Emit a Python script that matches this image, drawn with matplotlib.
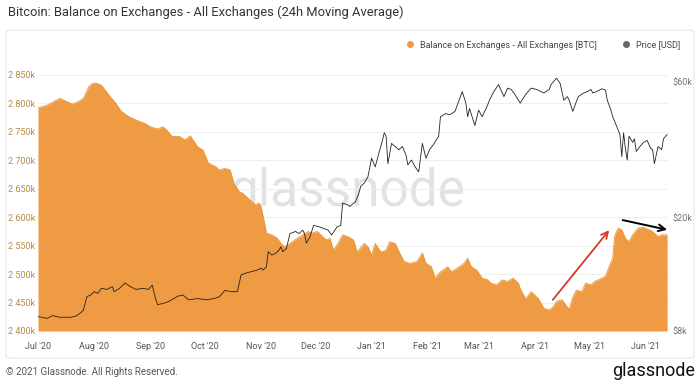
import numpy as np
import pandas as pd
import matplotlib
matplotlib.use("Agg")
import matplotlib.pyplot as plt
from matplotlib.lines import Line2D
from matplotlib.patches import FancyBboxPatch

plt.rcParams["font.family"] = ["Roboto", "DejaVu Sans"]

# day offsets from 2020-07-01 and balance on exchanges (thousand BTC)
bal_day = [0, 5, 12, 16, 19, 22, 25, 28, 30, 32, 35, 39, 43, 46, 50, 54, 59, 62, 66, 69,
           71, 74, 78, 81, 84, 88, 91, 94, 98, 100, 103, 106, 108, 111, 113, 117, 120, 122,
           123, 125, 126, 129, 132, 134, 136, 139, 143, 146, 149, 151, 154, 157, 159, 161,
           163, 166, 168, 171, 174, 176, 180, 182, 184, 186, 189, 192, 194, 197, 200, 202,
           205, 209, 212, 214, 217, 219, 222, 226, 228, 231, 235, 237, 239, 242, 245, 248,
           250, 253, 256, 259, 262, 265, 266, 269, 272, 276, 279, 282, 284, 286, 289, 291,
           293, 295, 297, 300, 302, 305, 307, 311, 313, 315, 317, 318, 320, 322, 324, 326,
           328, 331, 334, 337, 339, 342, 344, 347]
bal_val = [2792, 2797, 2809, 2803, 2799, 2803, 2809, 2829, 2835, 2836, 2832, 2815, 2800, 2786,
           2777, 2771, 2765, 2759, 2755, 2759, 2753, 2742, 2742, 2736, 2743, 2724, 2718, 2695,
           2689, 2683, 2686, 2683, 2660, 2645, 2642, 2630, 2622, 2625, 2619, 2589, 2572, 2569,
           2563, 2554, 2548, 2554, 2563, 2569, 2575, 2572, 2575, 2566, 2560, 2563, 2542, 2557,
           2569, 2566, 2560, 2539, 2554, 2548, 2534, 2554, 2539, 2542, 2557, 2554, 2534, 2522,
           2519, 2522, 2537, 2519, 2513, 2493, 2504, 2513, 2504, 2510, 2519, 2528, 2513, 2507,
           2493, 2490, 2484, 2481, 2490, 2487, 2493, 2484, 2474, 2457, 2469, 2457, 2440, 2437,
           2442, 2452, 2455, 2446, 2438, 2460, 2472, 2469, 2484, 2481, 2487, 2493, 2496, 2513,
           2528, 2566, 2581, 2578, 2563, 2557, 2569, 2581, 2582, 2578, 2575, 2566, 2569, 2569]

# day offsets and BTC price (thousand USD)
px_day = [0, 5, 8, 12, 18, 21, 23, 25, 27, 29, 31, 33, 35, 38, 41, 42, 45, 48, 51, 54, 58,
          61, 63, 65, 66, 69, 72, 75, 77, 80, 83, 88, 93, 97, 100, 103, 107, 110, 111, 112,
          115, 118, 121, 123, 124, 126, 127, 129, 131, 133, 134, 135, 137, 139, 142, 144,
          146, 147, 148, 150, 152, 155, 157, 160, 162, 165, 167, 168, 171, 172, 174, 175,
          177, 178, 180, 182, 184, 186, 188, 190, 191, 192, 193, 195, 197, 199, 201, 203,
          204, 206, 208, 210, 212, 214, 216, 218, 221, 222, 225, 227, 230, 232, 234, 236,
          237, 238, 240, 241, 243, 245, 248, 249, 251, 254, 257, 259, 261, 263, 266, 269,
          272, 275, 279, 282, 283, 286, 288, 290, 292, 293, 295, 296, 298, 301, 303, 305,
          306, 308, 311, 313, 314, 316, 317, 319, 321, 322, 323, 324, 325, 326, 328, 329,
          330, 332, 334, 336, 338, 339, 340, 342, 344, 345, 347]
px_val = [9.0, 8.86, 9.06, 8.94, 8.94, 9.03, 9.22, 9.45, 10.57, 10.7, 11.0, 10.85, 11.3, 11.2,
          11.45, 11.0, 11.3, 11.8, 11.45, 11.2, 11.3, 11.2, 11.6, 10.3, 9.9, 10.0, 10.15, 10.4,
          10.6, 10.7, 10.3, 10.4, 10.3, 10.4, 10.55, 11.1, 11.0, 11.0, 11.75, 12.6, 12.8,
          12.95, 13.1, 13.3, 13.1, 13.45, 15.2, 14.8, 15.0, 15.4, 15.8, 15.2, 15.6, 17.6,
          17.9, 17.6, 18.1, 17.6, 16.3, 17.1, 18.8, 18.6, 18.4, 18.1, 17.4, 18.6, 18.8, 22.5,
          22.2, 21.9, 22.5, 22.7, 24.4, 25.8, 26.5, 27.9, 32.4, 30.2, 33.7, 37.4, 39.8, 38.7,
          31.0, 36.5, 35.6, 34.7, 35.6, 33.2, 30.7, 31.9, 30.2, 29.0, 36.5, 32.4, 34.7, 36.1,
          38.7, 45.3, 46.5, 46.0, 47.3, 51.3, 55.5, 50.6, 45.3, 48.4, 44.1, 42.2, 47.8, 45.3,
          49.8, 51.8, 54.9, 58.8, 53.3, 57.1, 56.5, 54.3, 50.6, 54.3, 57.1, 56.5, 54.9, 56.5,
          58.8, 61.9, 59.4, 51.8, 53.3, 51.8, 47.3, 49.3, 53.3, 54.9, 55.5, 56.5, 54.9, 55.5,
          56.8, 56.2, 51.8, 47.8, 45.3, 42.2, 39.2, 32.8, 39.8, 35.0, 31.9, 38.7, 36.8, 37.9,
          34.2, 35.6, 36.8, 37.4, 35.0, 34.7, 31.0, 35.6, 34.7, 37.9, 39.2]

month_labels = ["Jul '20", "Aug '20", "Sep '20", "Oct '20", "Nov '20", "Dec '20",
                "Jan '21", "Feb '21", "Mar '21", "Apr '21", "May '21", "Jun '21"]
bal_ticks = [2400, 2450, 2500, 2550, 2600, 2650, 2700, 2750, 2800, 2850]
px_ticks = [8, 20, 60]

start = pd.Timestamp("2020-07-01")
bal_dates = start + pd.to_timedelta(bal_day, unit="D")
px_dates = start + pd.to_timedelta(px_day, unit="D")
month_pos = pd.date_range("2020-07-01", periods=12, freq="MS")

orange = "#EF9B43"
W, H = 700, 383
fig = plt.figure(figsize=(7, 3.83), dpi=100)

# panel frame
fig.patches.append(FancyBboxPatch((6 / W, 1 - 358 / H), 688 / W, 328 / H,
                                  boxstyle="round,pad=0,rounding_size=0.006",
                                  transform=fig.transFigure, facecolor="white",
                                  edgecolor="#E6E6E6", linewidth=0.8, zorder=0))

# watermark, sits behind the data
fig.text(348 / W, 1 - 192 / H, "glassnode", fontsize=37, color="#E2E2E2",
         ha="center", va="center", zorder=0.5)

ax = fig.add_axes([38 / W, 1 - 331 / H, 630 / W, 256 / H])
ax.set_zorder(1)
ax.patch.set_visible(False)

ax.fill_between(bal_dates, bal_val, 2400, color=orange, linewidth=0, zorder=2)
ax.plot(bal_dates, bal_val, color="#EC9535", linewidth=0.6, zorder=2)
ax.set_ylim(2400, 2850)
ax.set_xlim(start, start + pd.Timedelta(days=347.5))
ax.set_yticks(bal_ticks)
ax.set_yticklabels([f"{v:,}".replace(",", " ") + "k" for v in bal_ticks])
ax.tick_params(axis="y", colors="#B98A45", labelsize=6.5, length=0, pad=2)
ax.set_xticks(month_pos)
ax.set_xticklabels(month_labels)
ax.tick_params(axis="x", colors="#555555", labelsize=6.5, length=0, pad=8)
ax.grid(axis="y", color="#EEEEEE", linewidth=0.7, zorder=0)
for s in ax.spines.values():
    s.set_visible(False)

ax2 = ax.twinx()
ax2.set_zorder(2)
ax2.plot(px_dates, px_val, color="#222222", linewidth=0.6)
ax2.set_yscale("log")
ax2.set_ylim(8, 63.5)
ax2.set_yticks(px_ticks)
ax2.set_yticklabels([f"${v}k" for v in px_ticks])
ax2.minorticks_off()
ax2.tick_params(axis="y", colors="#777777", labelsize=6.5, length=0, pad=3)
for s in ax2.spines.values():
    s.set_visible(False)

# annotation arrows
ax.annotate("", xy=(start + pd.Timedelta(days=316), 2581),
            xytext=(start + pd.Timedelta(days=283), 2451),
            arrowprops=dict(arrowstyle="->", color="#D23A2A", lw=1.3,
                            mutation_scale=12), zorder=5)
ax.annotate("", xy=(start + pd.Timedelta(days=348.5), 2577),
            xytext=(start + pd.Timedelta(days=321), 2596),
            arrowprops=dict(arrowstyle="->", color="black", lw=1.4,
                            mutation_scale=12), zorder=5, annotation_clip=False)

fig.text(8 / W, 1 - 12 / H, "Bitcoin: Balance on Exchanges - All Exchanges (24h Moving Average)",
         fontsize=9.3, color="#333333", ha="left", va="center")

handles = [Line2D([], [], marker="o", linestyle="", color=orange, markersize=4),
           Line2D([], [], marker="o", linestyle="", color="#666666", markersize=4)]
fig.legend(handles, ["Balance on Exchanges - All Exchanges [BTC]", "Price [USD]"],
           loc="center right", bbox_to_anchor=(688 / W, 1 - 45 / H), ncol=2,
           frameon=False, fontsize=6.5, handletextpad=0.1, columnspacing=2.2,
           labelcolor="#444444")

fig.text(6 / W, 1 - 372 / H, "\u00a9 2021 Glassnode. All Rights Reserved.",
         fontsize=7, color="#555555", ha="left", va="center")
fig.text(695 / W, 1 - 371 / H, "glassnode", fontsize=13, color="#111111",
         ha="right", va="center")

fig.savefig("out.png", dpi=100)
